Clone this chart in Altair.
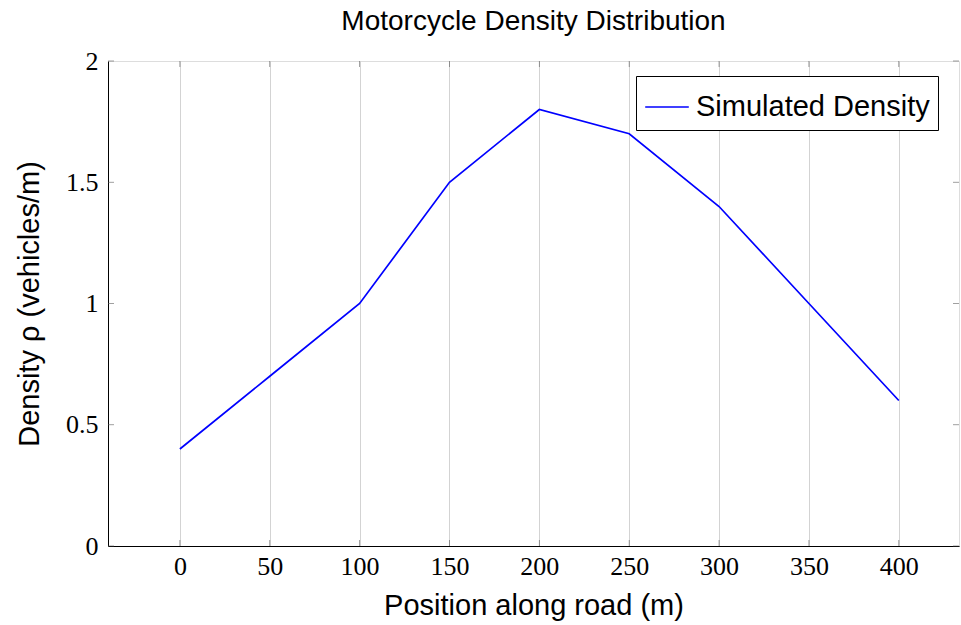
import altair as alt
import pandas as pd

positions = [0, 50, 100, 150, 200, 250, 300, 350, 400]
density = [0.4, 0.7, 1.0, 1.5, 1.8, 1.7, 1.4, 1.0, 0.6]
series_name = ["Simulated Density"] * len(positions)
x_ticks = [0, 50, 100, 150, 200, 250, 300, 350, 400]
y_ticks = [0, 0.5, 1, 1.5, 2]

df = pd.DataFrame({"x": positions, "y": density, "series": series_name})
xt = pd.DataFrame({"x": x_ticks})
yt = pd.DataFrame({"y": y_ticks})

SANS = "Liberation Sans"
SERIF = "Liberation Serif"

xscale = alt.Scale(domain=[-40, 433.5], nice=False, zero=False)
yscale = alt.Scale(domain=[0, 2], nice=False)

y_grid_color = {"condition": {"test": "datum.value === 0 || datum.value === 2", "value": "black"},
                "value": "#c8c8c8"}

line = alt.Chart(df).mark_line(strokeWidth=1.7).encode(
    x=alt.X("x:Q", scale=xscale,
            axis=alt.Axis(values=x_ticks, title="Position along road (m)",
                          labelFont=SERIF, labelFontSize=26, labelColor="black",
                          titleFont=SANS, titleFontSize=29, titleFontWeight="normal",
                          titleColor="black", labelPadding=7, titlePadding=12,
                          ticks=False, domain=True, domainColor="black", domainWidth=1,
                          gridColor="#c8c8c8", gridWidth=0.8, labelFlush=False)),
    y=alt.Y("y:Q", scale=yscale,
            axis=alt.Axis(values=y_ticks, format="~g", title="Density ρ (vehicles/m)",
                          labelFont=SERIF, labelFontSize=26, labelColor="black",
                          titleFont=SANS, titleFontSize=29, titleFontWeight="normal",
                          titleColor="black", labelPadding=10, titlePadding=21,
                          ticks=False, domain=True, domainColor="black", domainWidth=1,
                          gridColor=y_grid_color, gridWidth=0.8, labelFlush=False)),
    color=alt.Color("series:N", scale=alt.Scale(range=["#0000ff"]),
                    legend=alt.Legend(title=None, orient="none", legendX=528, legendY=15,
                                      symbolType="stroke", symbolSize=1900,
                                      symbolStrokeWidth=1.7, labelFont=SANS,
                                      labelFontSize=29, labelColor="black", labelLimit=0,
                                      strokeColor="black", fillColor="white",
                                      padding=8, labelOffset=6, cornerRadius=0)),
)

tick_len = 6
tick_style = dict(color="#555555", thickness=0.8, size=tick_len)
xb = alt.Chart(xt).mark_tick(orient="vertical", yOffset=-tick_len / 2, **tick_style).encode(
    x=alt.X("x:Q", scale=xscale), y=alt.YDatum(0))
xtop = alt.Chart(xt).mark_tick(orient="vertical", yOffset=tick_len / 2, **tick_style).encode(
    x=alt.X("x:Q", scale=xscale), y=alt.YDatum(2))
yl = alt.Chart(yt).mark_tick(orient="horizontal", xOffset=tick_len / 2, **tick_style).encode(
    y=alt.Y("y:Q", scale=yscale), x=alt.XDatum(-40))
yr = alt.Chart(yt).mark_tick(orient="horizontal", xOffset=-tick_len / 2, **tick_style).encode(
    y=alt.Y("y:Q", scale=yscale), x=alt.XDatum(433.5))

chart = alt.layer(xb, xtop, yl, yr, line).properties(
    width=851, height=485,
    title=alt.TitleParams("Motorcycle Density Distribution", font=SANS, fontSize=28,
                          fontWeight="normal", color="black", offset=12),
    autosize=alt.AutoSizeParams(type="none"),
    padding={"left": 108, "top": 61, "right": 2, "bottom": 79},
).configure_view(stroke="black", strokeWidth=1).configure(background="white")

chart.save("out.html", embed_options={"renderer": "svg", "actions": False})
